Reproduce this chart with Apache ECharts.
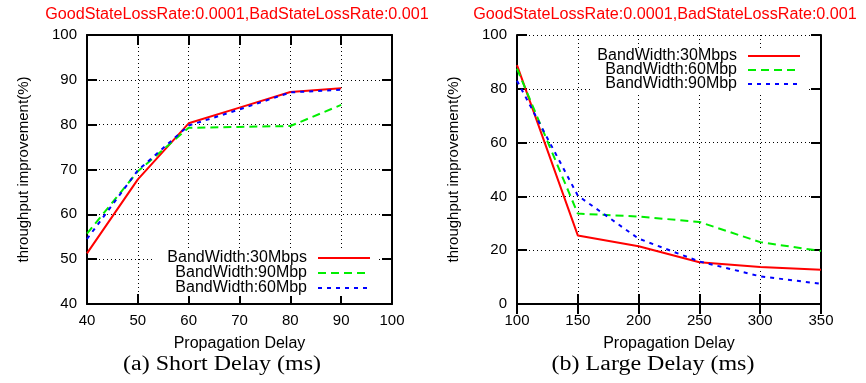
<!DOCTYPE html>
<html>
<head>
<meta charset="utf-8">
<script src="https://cdn.jsdelivr.net/npm/echarts@6/dist/echarts.min.js"></script>
<style>
  html, body { margin: 0; padding: 0; background: #fff; }
  #chart { width: 866px; height: 383px; }
</style>
</head>
<body>
<div id="chart"></div>
<script>
// ─── Data ──────────────────────────────────────────────────────────
const shortDelayX = [40, 50, 60, 70, 80, 90];
const short30 = [51.3, 67.8, 80.3, 83.8, 87.3, 88.1];
const short90 = [55.7, 69.6, 79.3, 79.5, 79.7, 84.4];
const short60 = [54.5, 69.8, 79.8, 83.4, 87.2, 87.8];

const largeDelayX = [100, 150, 200, 250, 300, 350];
const large30 = [88.8, 25.5, 21.5, 15.5, 13.8, 12.7];
const large60 = [87.5, 33.6, 32.5, 30.5, 23.0, 19.7];
const large90 = [83.0, 40.3, 24.3, 15.8, 10.3, 7.5];

const seriesLabels = {
  s30: "BandWidth:30Mbps",
  l30: "BandWidth:30Mbps",
  s90: "BandWidth:90Mbp",
  s60: "BandWidth:60Mbp",
  l60: "BandWidth:60Mbp",
  l90: "BandWidth:90Mbp",
};
const titleText = "GoodStateLossRate:0.0001,BadStateLossRate:0.001";
const yName = "throughput improvement(%)";
const xName = "Propagation Delay";
const captions = ["(a) Short Delay (ms)", "(b) Large Delay (ms)"];

// ─── Styling ───────────────────────────────────────────────────────
const SANS = "Liberation Sans";
const SERIF = "Liberation Serif";
const RED = "#ff0000", GREEN = "#00ee00", BLUE = "#0000ff";

const pairs = (xs, ys) => xs.map((x, i) => [x, ys[i]]);

function mainX(gridIndex, min, max, interval) {
  return {
    type: "value", gridIndex, position: "bottom", min, max, interval,
    name: xName, nameLocation: "middle", nameGap: 32,
    nameTextStyle: { fontFamily: SANS, fontSize: 16, color: "#000" },
    axisLine: { show: true, lineStyle: { color: "#000", width: 2 } },
    axisTick: { show: true, inside: true, length: 10, lineStyle: { color: "#000", width: 2 } },
    axisLabel: { show: true, margin: 9, fontFamily: SANS, fontSize: 15, color: "#000",
      showMinLabel: true, showMaxLabel: true, hideOverlap: false },
    splitLine: { show: true, lineStyle: { color: "#000", width: 1, type: [1, 3] } },
  };
}
function mirrorX(gridIndex, min, max, interval) {
  return {
    type: "value", gridIndex, position: "top", min, max, interval,
    axisLine: { show: true, lineStyle: { color: "#000", width: 2 } },
    axisTick: { show: true, inside: true, length: 10, lineStyle: { color: "#000", width: 2 } },
    axisLabel: { show: false },
    splitLine: { show: false },
  };
}
function mainY(gridIndex, min, max, interval) {
  return {
    type: "value", gridIndex, position: "left", min, max, interval,
    name: yName, nameLocation: "middle", nameGap: 56, nameRotate: 90,
    nameTextStyle: { fontFamily: SANS, fontSize: 15, color: "#000" },
    axisLine: { show: true, lineStyle: { color: "#000", width: 2 } },
    axisTick: { show: true, inside: true, length: 10, lineStyle: { color: "#000", width: 2 } },
    axisLabel: { show: true, margin: 10, fontFamily: SANS, fontSize: 15, color: "#000",
      showMinLabel: true, showMaxLabel: true, hideOverlap: false },
    splitLine: { show: true, lineStyle: { color: "#000", width: 1, type: [1, 3] } },
  };
}
function mirrorY(gridIndex, min, max, interval) {
  return {
    type: "value", gridIndex, position: "right", min, max, interval,
    axisLine: { show: true, lineStyle: { color: "#000", width: 2 } },
    axisTick: { show: true, inside: true, length: 10, lineStyle: { color: "#000", width: 2 } },
    axisLabel: { show: false },
    splitLine: { show: false },
  };
}

function line(name, xIdx, yIdx, data, color, dash) {
  return {
    type: "line", name, xAxisIndex: xIdx, yAxisIndex: yIdx, data,
    symbol: "none", showSymbol: false, animation: false, z: 3,
    lineStyle: { color, width: 2, type: dash },
    itemStyle: { color },
  };
}

// one legend per row so the line samples line up on the right, like gnuplot's key
function legendRow(name, right, top) {
  return {
    data: [name], orient: "horizontal", align: "right", right, top,
    itemWidth: 52, itemHeight: 14, padding: [0, 7, 0, 14], selectedMode: false,
    backgroundColor: "#fff",
    itemStyle: { opacity: 0 },
    formatter: (n) => seriesLabels[n],
    textStyle: { fontFamily: SANS, fontSize: 16, lineHeight: 14, color: "#000", padding: [0, 6, 0, 0] },
  };
}

function caption(text, x, y, font, fill, sx) {
  return {
    type: "text", x, y, scaleX: sx, silent: true,
    style: { text, font, fill, align: "center", verticalAlign: "middle" },
  };
}

const chart = echarts.init(document.getElementById("chart"), null, { renderer: "canvas" });
chart.setOption({
  animation: false,
  backgroundColor: "#fff",
  grid: [
    { left: 87, width: 305, top: 35, height: 269, containLabel: false, outerBoundsMode: "none" },
    { left: 517, width: 304, top: 35, height: 269, containLabel: false, outerBoundsMode: "none" },
  ],
  xAxis: [mainX(0, 40, 100, 10), mirrorX(0, 40, 100, 10), mainX(1, 100, 350, 50), mirrorX(1, 100, 350, 50)],
  yAxis: [mainY(0, 40, 100, 10), mirrorY(0, 40, 100, 10), mainY(1, 0, 100, 20), mirrorY(1, 0, 100, 20)],
  legend: [
    legendRow("s30", 488, 250),
    legendRow("s90", 488, 265),
    legendRow("s60", 488, 280),
    legendRow("l30", 58, 48),
    legendRow("l60", 58, 62),
    legendRow("l90", 58, 76),
  ],
  series: [
    line("s30", 0, 0, pairs(shortDelayX, short30), RED, "solid"),
    line("s90", 0, 0, pairs(shortDelayX, short90), GREEN, [8, 5]),
    line("s60", 0, 0, pairs(shortDelayX, short60), BLUE, [4, 5]),
    line("l30", 2, 2, pairs(largeDelayX, large30), RED, "solid"),
    line("l60", 2, 2, pairs(largeDelayX, large60), GREEN, [8, 5]),
    line("l90", 2, 2, pairs(largeDelayX, large90), BLUE, [4, 5]),
  ],
  graphic: [
    caption(titleText, 237, 15, `16px "${SANS}"`, RED, 1.01),
    caption(titleText, 665, 15, `16px "${SANS}"`, RED, 1.01),
    caption(captions[0], 222, 365, `20px "${SERIF}"`, "#000", 1.2),
    caption(captions[1], 653, 365, `20px "${SERIF}"`, "#000", 1.2),
  ],
});
</script>
</body>
</html>
